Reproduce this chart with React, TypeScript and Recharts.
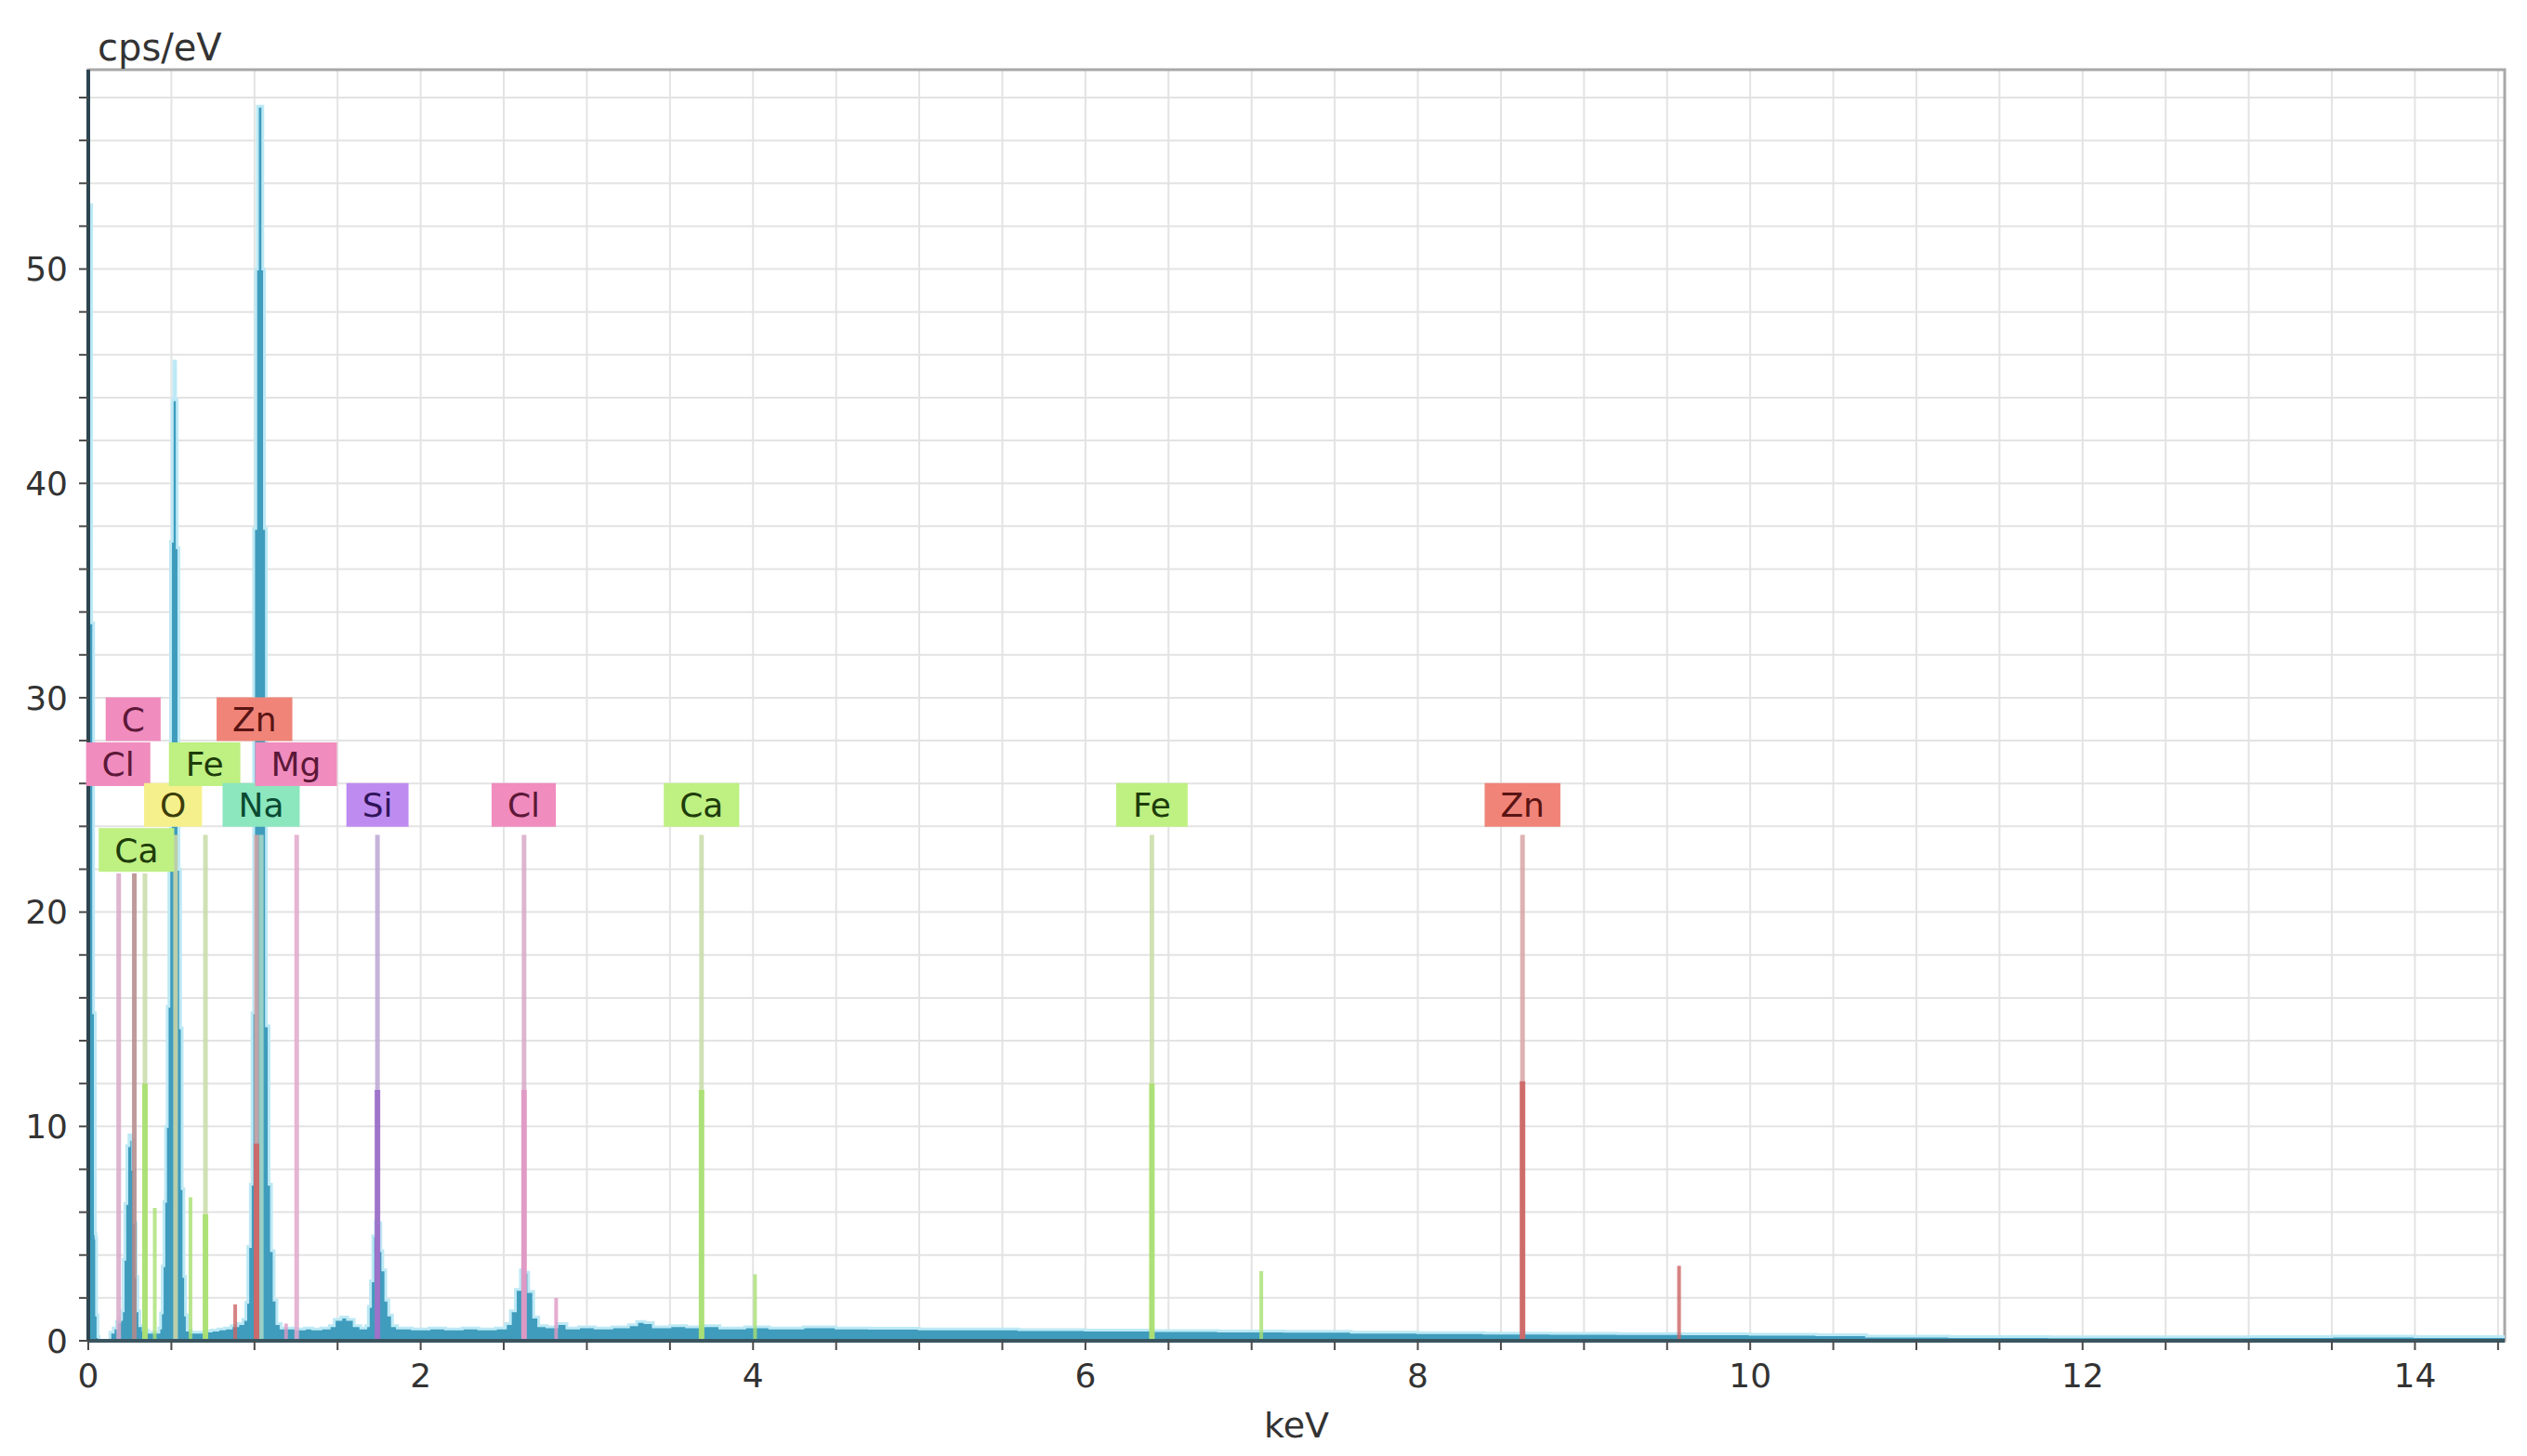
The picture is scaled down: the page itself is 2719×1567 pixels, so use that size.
import React from "react"
import {
  ComposedChart, Area, XAxis, YAxis, CartesianGrid,
  ReferenceLine, ReferenceDot, ReferenceArea,
} from "recharts"

// spectrum (keV, cps/eV)
const ENERGY = [
  0.0, 0.01, 0.02, 0.026, 0.032, 0.037, 0.042, 0.046, 0.05, 0.058, 0.065, 0.12,
  0.13, 0.15, 0.17, 0.19, 0.2, 0.21, 0.22, 0.232, 0.245, 0.258, 0.268, 0.278, 0.288, 0.298,
  0.31, 0.33, 0.36, 0.4, 0.425, 0.435, 0.445, 0.455, 0.465, 0.475, 0.485, 0.495, 0.505,
  0.515, 0.525, 0.535, 0.545, 0.555, 0.565, 0.575, 0.585, 0.595, 0.62, 0.66, 0.7, 0.74,
  0.78, 0.82, 0.86, 0.9, 0.93, 0.948, 0.96, 0.975, 0.985, 0.995, 1.008, 1.018, 1.04,
  1.05, 1.06, 1.072, 1.088, 1.102, 1.118, 1.135, 1.16, 1.2, 1.25, 1.3, 1.35, 1.4, 1.45,
  1.48, 1.52, 1.56, 1.6, 1.64, 1.67, 1.685, 1.698, 1.712, 1.728, 1.745, 1.76, 1.772,
  1.79, 1.808, 1.83, 1.86, 1.95, 2.05, 2.15, 2.25, 2.35, 2.45, 2.51, 2.54, 2.57, 2.6,
  2.625, 2.65, 2.68, 2.71, 2.76, 2.82, 2.88, 2.95, 3.05, 3.15, 3.25, 3.3, 3.35, 3.4,
  3.5, 3.6, 3.7, 3.8, 3.95, 4.1, 4.3, 4.5, 4.7, 5.0, 5.3, 5.6, 6.0, 6.4, 6.8, 7.2, 7.6,
  8.0, 8.4, 8.8, 9.2, 9.6, 10.0, 10.4, 10.7, 11.2, 11.8, 12.4, 13.0, 13.5, 14.0, 14.54,
]
const COUNTS = [
  53, 53, 33.5, 33.5, 15.3, 15.3, 5, 4.8, 1.2, 0.2, 0, 0,
  0.4, 0.6, 0.9, 1.0, 1.4, 3.8, 6.4, 9.1, 9.6, 9.4, 8.0, 5.5, 3.0, 1.4,
  0.7, 0.5, 0.4, 0.4, 0.6, 1.3, 3.5, 6.5, 10, 15.6, 22, 37.3, 43.9,
  45.7, 43.9, 37, 22, 14.6, 7.1, 3.0, 1.2, 0.5, 0.4, 0.4, 0.45, 0.5,
  0.55, 0.6, 0.7, 0.8, 1.0, 1.8, 4.4, 7.3, 15.3, 37.9, 50, 57.6, 57.6,
  50, 37.9, 14.7, 7.3, 4.2, 1.9, 0.8, 0.6, 0.6, 0.55, 0.6, 0.55, 0.6, 0.7,
  1.0, 1.1, 1.0, 0.7, 0.6, 0.7, 1.6, 2.8, 4.9, 5.6, 5.5, 4.2, 3.3,
  1.9, 1.2, 0.7, 0.6, 0.55, 0.6, 0.55, 0.6, 0.55, 0.6, 0.8, 1.4, 2.4, 3.3,
  3.2, 2.3, 1.1, 0.7, 0.65, 0.8, 0.6, 0.65, 0.6, 0.65, 0.75, 0.9, 0.85, 0.65,
  0.7, 0.65, 0.7, 0.6, 0.65, 0.6, 0.65, 0.6, 0.58, 0.55, 0.55, 0.52, 0.5, 0.48, 0.45, 0.44, 0.4,
  0.38, 0.36, 0.35, 0.34, 0.33, 0.3, 0.28, 0.22, 0.2, 0.18, 0.18, 0.2, 0.22, 0.2, 0.15,
]

const X_TICKS = [0, 0.5, 1, 1.5, 2, 2.5, 3, 3.5, 4, 4.5, 5, 5.5, 6, 6.5, 7, 7.5, 8, 8.5, 9, 9.5, 10, 10.5, 11, 11.5, 12, 12.5, 13, 13.5, 14, 14.5]
const Y_TICKS = [0, 2, 4, 6, 8, 10, 12, 14, 16, 18, 20, 22, 24, 26, 28, 30, 32, 34, 36, 38, 40, 42, 44, 46, 48, 50, 52, 54, 56, 58]

// element markers
const MARKER_NAMES = ["Cl", "C", "Ca", "O", "Fe", "Zn", "Na", "Mg", "Si", "Cl", "Ca", "Fe", "Zn"]
const MARKER_KEV = [0.183, 0.277, 0.341, 0.525, 0.705, 1.012, 1.041, 1.254, 1.74, 2.622, 3.69, 6.4, 8.63]
const MARKER_TOP = [21.8, 21.8, 21.8, 23.6, 23.6, 23.6, 23.6, 23.6, 23.6, 23.6, 23.6, 23.6, 23.6]
const MARKER_MAIN = [0, 0, 12, 0, 5.9, 9.2, 0, 0, 11.7, 11.7, 11.7, 12, 12.1]
// where each label box sits (keV, cps/eV)
const LABEL_KEV = [0.18, 0.27, 0.29, 0.51, 0.7, 1.0, 1.04, 1.25, 1.74, 2.62, 3.69, 6.4, 8.63]
const LABEL_LEVEL = [26.9, 29.0, 22.9, 25.0, 26.9, 29.0, 25.0, 26.9, 25.0, 25.0, 25.0, 25.0, 25.0]

// minor lines (K-beta etc.)
const MINOR_KEV = [0.4, 0.615, 0.884, 1.19, 2.815, 4.012, 7.058, 9.572]
const MINOR_TOP = [6.2, 6.7, 1.7, 0.8, 2.0, 3.1, 3.25, 3.5]
const MINOR_EL = ["Ca", "Fe", "Zn", "Mg", "Cl", "Ca", "Fe", "Zn"]

const STYLE: Record<string, { box: string; text: string; thin: string; bold: string }> = {
  C: { box: "#f08cbe", text: "#5c1838", thin: "#b58a8a", bold: "#a06a6a" },
  Cl: { box: "#f08cbe", text: "#5c1838", thin: "#d8a8c8", bold: "#e098c4" },
  Mg: { box: "#f08cbe", text: "#5c1838", thin: "#e0a8cc", bold: "#e098c4" },
  Zn: { box: "#f08478", text: "#5a1414", thin: "#d8a4a4", bold: "#cc6464" },
  Fe: { box: "#bef082", text: "#1e3c0a", thin: "#c8dca8", bold: "#a8e070" },
  Ca: { box: "#bef082", text: "#1e3c0a", thin: "#c8dca8", bold: "#a8e070" },
  O: { box: "#f5f08c", text: "#3c3c0a", thin: "#d0d8a8", bold: "#e0e070" },
  Na: { box: "#8ce6be", text: "#0a4a32", thin: "#a8d8c8", bold: "#70d0a8" },
  Si: { box: "#be8cf0", text: "#30145a", thin: "#bca6d4", bold: "#9a6ec8" },
}

// DejaVu Sans advance widths (em)
const CHAR_W: Record<string, number> = {
  C: 0.698, l: 0.278, a: 0.613, O: 0.787, F: 0.575, e: 0.615, Z: 0.685,
  n: 0.634, M: 0.863, g: 0.635, N: 0.748, S: 0.635, i: 0.278,
}

const FONT = "DejaVu Sans, Verdana, sans-serif"
const LABEL_FS = 36

const data = ENERGY.map((e, i) => ({ kev: e, cps: COUNTS[i] }))

function labelShape(name: string) {
  return (props: any) => {
    const { cx, cy } = props
    const s = STYLE[name]
    const tw = name.split("").reduce((w, c) => w + (CHAR_W[c] ?? 0.62) * LABEL_FS, 0)
    const w = tw + 34
    const h = 47
    return (
      <g>
        <rect x={cx - w / 2} y={cy - h / 2} width={w} height={h} fill={s.box} />
        <text x={cx} y={cy + 13} textAnchor="middle" fontSize={LABEL_FS} fontFamily={FONT} fill={s.text}>
          {name}
        </text>
      </g>
    )
  }
}

export default function App() {
  return (
    <div style={{ position: "absolute", left: 0, top: 0, background: "#fff" }}>
      <ComposedChart
        width={2719}
        height={1567}
        data={data}
        margin={{ top: 75, right: 24, left: 0, bottom: 0 }}
        style={{ fontFamily: FONT }}
      >
        <CartesianGrid stroke="#e3e3e3" strokeWidth={2} />
        <ReferenceArea x1={0} x2={14.54} y1={0} y2={59.3} fill="none" stroke="#a8a8a8" strokeWidth={3} />
        <XAxis
          dataKey="kev"
          type="number"
          domain={[0, 14.54]}
          ticks={X_TICKS}
          allowDataOverflow
          height={124}
          tickSize={10}
          tickMargin={14}
          axisLine={{ stroke: "#3a5560", strokeWidth: 4 }}
          tickLine={{ stroke: "#4a4a4a", strokeWidth: 2 }}
          tick={{ fontSize: 36, fill: "#333" }}
          tickFormatter={(v: number) => (v % 2 === 0 ? String(v) : "")}
          label={{ value: "keV", position: "insideBottom", offset: 20, fontSize: 38, fill: "#333" }}
        />
        <YAxis
          type="number"
          domain={[0, 59.3]}
          ticks={Y_TICKS}
          allowDataOverflow
          width={95}
          tickSize={10}
          tickMargin={12}
          axisLine={{ stroke: "#2d4550", strokeWidth: 4 }}
          tickLine={{ stroke: "#4a4a4a", strokeWidth: 2 }}
          tick={{ fontSize: 36, fill: "#333" }}
          tickFormatter={(v: number) => (v % 10 === 0 ? String(v) : "")}
          label={{
            content: (p: any) => (
              <text x={p.viewBox.x + p.viewBox.width + 10} y={p.viewBox.y - 10} fontSize={40} fill="#333" fontFamily={FONT}>
                cps/eV
              </text>
            ),
          }}
        />
        <Area
          type="stepAfter"
          dataKey="cps"
          stroke="#bde9f5"
          strokeWidth={3}
          fill="#3f9cbd"
          fillOpacity={1}
          isAnimationActive={false}
        />
        {MARKER_KEV.map((e, i) => (
          <ReferenceLine
            key={"t" + i}
            segment={[{ x: e, y: 0 }, { x: e, y: MARKER_TOP[i] }]}
            stroke={STYLE[MARKER_NAMES[i]].thin}
            strokeWidth={5}
            strokeOpacity={0.85}
          />
        ))}
        {MARKER_KEV.map((e, i) =>
          MARKER_MAIN[i] > 0 ? (
            <ReferenceLine
              key={"b" + i}
              segment={[{ x: e, y: 0 }, { x: e, y: MARKER_MAIN[i] }]}
              stroke={STYLE[MARKER_NAMES[i]].bold}
              strokeWidth={6}
              strokeOpacity={0.9}
            />
          ) : null
        )}
        {MINOR_KEV.map((e, i) => (
          <ReferenceLine
            key={"m" + i}
            segment={[{ x: e, y: 0 }, { x: e, y: MINOR_TOP[i] }]}
            stroke={STYLE[MINOR_EL[i]].bold}
            strokeWidth={4}
            strokeOpacity={0.8}
          />
        ))}
        {MARKER_NAMES.map((n, i) => (
          <ReferenceDot
            key={"l" + i}
            x={LABEL_KEV[i]}
            y={LABEL_LEVEL[i]}
            r={0}
            shape={labelShape(n)}
          />
        ))}
      </ComposedChart>
    </div>
  )
}
